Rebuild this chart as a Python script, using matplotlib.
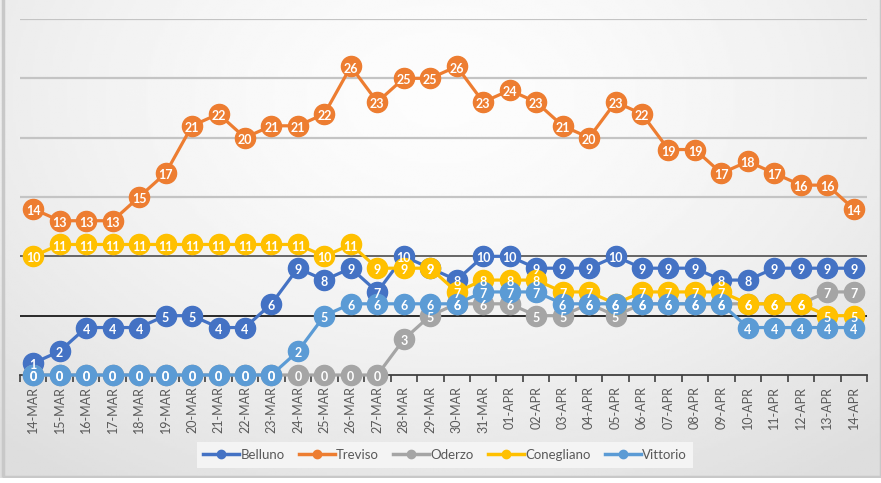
"""Daily counts per area (14-MAR .. 14-APR), Excel-style line chart with data labels."""
import matplotlib
matplotlib.use("Agg")
import matplotlib.pyplot as plt
from matplotlib.patches import Rectangle
import numpy as np

# ---- data --------------------------------------------------------------------
dates = [
    "14-MAR", "15-MAR", "16-MAR", "17-MAR", "18-MAR", "19-MAR", "20-MAR", "21-MAR",
    "22-MAR", "23-MAR", "24-MAR", "25-MAR", "26-MAR", "27-MAR", "28-MAR", "29-MAR",
    "30-MAR", "31-MAR", "01-APR", "02-APR", "03-APR", "04-APR", "05-APR", "06-APR",
    "07-APR", "08-APR", "09-APR", "10-APR", "11-APR", "12-APR", "13-APR", "14-APR",
]
belluno = [1, 2, 4, 4, 4, 5, 5, 4, 4, 6, 9, 8, 9, 7, 10, 9,
           8, 10, 10, 9, 9, 9, 10, 9, 9, 9, 8, 8, 9, 9, 9, 9]
treviso = [14, 13, 13, 13, 15, 17, 21, 22, 20, 21, 21, 22, 26, 23, 25, 25,
           26, 23, 24, 23, 21, 20, 23, 22, 19, 19, 17, 18, 17, 16, 16, 14]
oderzo = [0, 0, 0, 0, 0, 0, 0, 0, 0, 0, 0, 0, 0, 0, 3, 5,
          6, 6, 6, 5, 5, 6, 5, 6, 6, 6, 6, 6, 6, 6, 7, 7]
conegliano = [10, 11, 11, 11, 11, 11, 11, 11, 11, 11, 11, 10, 11, 9, 9, 9,
              7, 8, 8, 8, 7, 7, 6, 7, 7, 7, 7, 6, 6, 6, 5, 5]
vittorio = [0, 0, 0, 0, 0, 0, 0, 0, 0, 0, 2, 5, 6, 6, 6, 6,
            6, 7, 7, 7, 6, 6, 6, 6, 6, 6, 6, 4, 4, 4, 4, 4]

series = [
    ("Belluno", belluno, "#4472C4"),
    ("Treviso", treviso, "#ED7D31"),
    ("Oderzo", oderzo, "#A5A5A5"),
    ("Conegliano", conegliano, "#FFC000"),
    ("Vittorio", vittorio, "#5B9BD5"),
]

plt.rcParams["font.family"] = ["Lato", "DejaVu Sans"]

W, H = 881, 483
fig = plt.figure(figsize=(W / 100, H / 100), dpi=100)

# ---- soft grey background with a lighter centre -------------------------------
bg = fig.add_axes([0, 0, 1, 1], zorder=-10)
yy, xx = np.mgrid[0:1:200j, 0:1:360j]
r = np.sqrt(((xx - 0.5) / 0.75) ** 2 + ((yy - 0.2) / 0.95) ** 2)
shade = 0.99 - 0.12 * np.clip(r, 0, 1) ** 1.6
bg.imshow(shade, cmap="gray", vmin=0, vmax=1, aspect="auto",
          extent=[0, 1, 0, 1], origin="upper")
bg.add_patch(Rectangle((3 / W, 6 / H), 1 - 3 / W, 1, fill=False,
                       edgecolor="#c8c8c8", linewidth=2.5, transform=bg.transAxes))
bg.add_patch(Rectangle((0, 0), 1, 5 / H, facecolor="white", edgecolor="none",
                       transform=bg.transAxes))
bg.set_xlim(0, 1)
bg.set_ylim(0, 1)
bg.axis("off")

# ---- main plot ---------------------------------------------------------------
ax = fig.add_axes([20 / W, (H - 375) / H, 847 / W, 356 / H])
ax.patch.set_alpha(0)
x = np.arange(len(dates))

grid_colors = {5: "#1a1a1a", 10: "#5a5a5a"}
for g in range(5, 31, 5):
    ax.axhline(g, color=grid_colors.get(g, "#c4c4c4"),
               linewidth=1.6 if g > 10 else 1.3, zorder=1)

for i, (name, vals, col) in enumerate(series):
    ax.plot(x, vals, color=col, linewidth=2.3, marker="o", markersize=14.5,
            markerfacecolor=col, markeredgecolor=col, label=name,
            zorder=3 + i, clip_on=False)

for name, vals, col in series:
    for xi, v in zip(x, vals):
        ax.annotate(str(v), (xi, v), xytext=(0, -1.5), textcoords="offset points",
                    ha="center", va="center", color="white", fontsize=9,
                    fontweight="bold", zorder=20, annotation_clip=False)

ax.set_xlim(-0.5, len(dates) - 0.5)
ax.set_ylim(0, 30)
ax.set_yticks([])
ax.set_xticks(x)
ax.set_xticklabels(dates, rotation=90, fontsize=9, color="#595959")
ax.set_xticks(np.arange(-0.5, len(dates), 1), minor=True)
ax.tick_params(axis="x", which="major", length=0, pad=8)
ax.tick_params(axis="x", which="minor", length=5, width=1.2, color="#404040")
for side in ("top", "right", "left"):
    ax.spines[side].set_visible(False)
ax.spines["bottom"].set_color("#404040")
ax.spines["bottom"].set_linewidth(1.3)
ax.spines["bottom"].set_zorder(2)

# legend with small markers
handles = [plt.Line2D([], [], color=c, linewidth=2.5, marker="o", markersize=6)
           for _, _, c in series]
leg = fig.legend(handles, [s[0] for s in series], loc="center",
                 bbox_to_anchor=(445 / W, (H - 455) / H), ncol=5, frameon=True,
                 fontsize=9.5, handlelength=2.7, columnspacing=1.1,
                 handletextpad=0.1, borderpad=0.5)
leg.get_frame().set_facecolor("#f4f4f4")
leg.get_frame().set_edgecolor("none")
leg.get_frame().set_alpha(1)
leg.get_frame().set_boxstyle("square", pad=0)
for t in leg.get_texts():
    t.set_color("#595959")

fig.savefig("out.png", dpi=100)
